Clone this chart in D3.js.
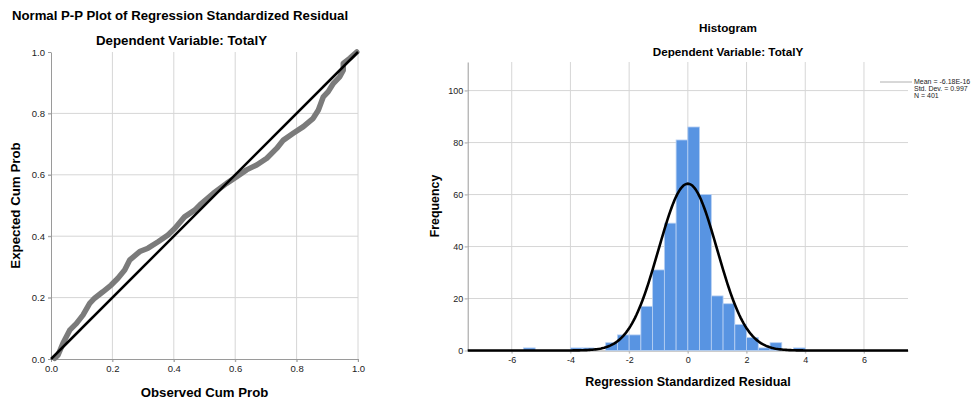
<!DOCTYPE html>
<html>
<head>
<meta charset="utf-8">
<script src="https://d3js.org/d3.v7.min.js"></script>
<style>
  body { margin: 0; background: #fff; }
  svg { font-family: Arial, "Liberation Sans", sans-serif; }
  .title { font-weight: bold; fill: #000; text-anchor: middle; }
  .axisTitle { font-weight: bold; fill: #000; text-anchor: middle; }
  .grid { stroke: #d6d6d6; stroke-width: 1; }
  .legend { font-size: 7px; fill: #222; }
</style>
</head>
<body>
<svg id="chart" width="979" height="403"></svg>
<script>
// P-P plot points
const observedCum = [0.012, 0.023, 0.039, 0.061, 0.083, 0.104, 0.126, 0.142, 0.169, 0.196,
  0.218, 0.240, 0.256, 0.289, 0.316, 0.349, 0.381, 0.403, 0.435, 0.468, 0.485, 0.529,
  0.572, 0.605, 0.637, 0.670, 0.703, 0.735, 0.757, 0.789, 0.822, 0.854, 0.871, 0.887,
  0.903, 0.920, 0.941, 0.952, 0.952, 0.974, 0.996];
const expectedCum = [0.002, 0.013, 0.051, 0.094, 0.116, 0.143, 0.181, 0.198, 0.219, 0.241,
  0.263, 0.290, 0.322, 0.350, 0.361, 0.382, 0.404, 0.425, 0.463, 0.485, 0.502, 0.540,
  0.572, 0.594, 0.616, 0.632, 0.654, 0.686, 0.713, 0.735, 0.757, 0.784, 0.811, 0.854,
  0.871, 0.898, 0.920, 0.941, 0.963, 0.980, 1.0];
const ppTicks = [0, 0.2, 0.4, 0.6, 0.8, 1.0];

// histogram: lower edge of each bin (width 0.4) and its count
const binStart = [-5.6, -4.0, -3.6, -2.8, -2.4, -2.0, -1.6, -1.2, -0.8, -0.4,
  0, 0.4, 0.8, 1.2, 1.6, 2.0, 2.4, 2.8, 3.6];
const binCount = [1, 1, 1, 3, 6, 6, 17, 31, 49, 81, 86, 60, 21, 18, 10, 5, 1, 3, 1];
const binWidth = 0.4;
const histXTicks = [-6, -4, -2, 0, 2, 4, 6];
const histYTicks = [0, 20, 40, 60, 80, 100];

const residMean = -6.18e-16;
const residSd = 0.997;
const residN = 401;
const legendLines = ["Mean = -6.18E-16", "Std. Dev. = 0.997", "N = 401"];

let svg = d3.select("#chart");

// ---------- left: normal P-P plot ----------
let pp = svg.append("g").attr("id", "ppPlot");
let xPP = d3.scaleLinear().domain([0, 1]).range([51, 358]);
let yPP = d3.scaleLinear().domain([0, 1]).range([359, 52]);

pp.selectAll("line.vgrid").data(ppTicks.slice(1))
  .join("line").attr("class", "grid vgrid")
  .attr("x1", d => xPP(d)).attr("x2", d => xPP(d))
  .attr("y1", yPP(1)).attr("y2", yPP(0) + 3);
pp.selectAll("line.hgrid").data(ppTicks.slice(1, -1))
  .join("line").attr("class", "grid hgrid")
  .attr("x1", xPP(0) - 3).attr("x2", xPP(1))
  .attr("y1", d => yPP(d)).attr("y2", d => yPP(d));

let ppY = pp.append("g").attr("transform", `translate(${xPP(0)},0)`)
  .call(d3.axisLeft(yPP).tickValues(ppTicks).tickFormat(d3.format(".1f")).tickSize(3).tickSizeOuter(0).tickPadding(3));
let ppX = pp.append("g").attr("transform", `translate(0,${yPP(0)})`)
  .call(d3.axisBottom(xPP).tickValues(ppTicks).tickFormat(d3.format(".1f")).tickSize(3).tickSizeOuter(0).tickPadding(3.5));
[ppY, ppX].forEach(a => {
  a.select(".domain").attr("stroke", "#9a9a9a");
  a.selectAll(".tick line").attr("stroke", "#9a9a9a");
  a.selectAll(".tick text").attr("fill", "#222").style("font-size", "9.5px");
});

let ppData = observedCum.map((d, i) => [d, expectedCum[i]]);
pp.append("path").datum(ppData)
  .attr("fill", "none").attr("stroke", "#7b7b7b").attr("stroke-width", 5.5)
  .attr("stroke-linejoin", "round").attr("stroke-linecap", "round")
  .attr("d", d3.line().x(d => xPP(d[0])).y(d => yPP(d[1])));
pp.append("line")
  .attr("x1", xPP(0)).attr("y1", yPP(0)).attr("x2", xPP(1)).attr("y2", yPP(1))
  .attr("stroke", "#000").attr("stroke-width", 2.5);

pp.append("text").attr("class", "title").attr("x", 180).attr("y", 19.5)
  .style("font-size", "13.2px").text("Normal P-P Plot of Regression Standardized Residual");
pp.append("text").attr("class", "title").attr("x", 181.5).attr("y", 45)
  .style("font-size", "13.3px").text("Dependent Variable: TotalY");
pp.append("text").attr("class", "axisTitle").attr("x", 204.5).attr("y", 397)
  .style("font-size", "13.2px").text("Observed Cum Prob");
pp.append("text").attr("class", "axisTitle")
  .attr("transform", "translate(19.5,205.5) rotate(-90)")
  .style("font-size", "13.3px").text("Expected Cum Prob");

// ---------- right: histogram ----------
let hist = svg.append("g").attr("id", "histogram");
let xH = d3.scaleLinear().domain([-7.5, 7.5]).range([467.7, 908]);
let yH = d3.scaleLinear().domain([0, 111]).range([350.5, 62]);

hist.selectAll("line.vgrid").data(histXTicks)
  .join("line").attr("class", "grid vgrid")
  .attr("x1", d => xH(d)).attr("x2", d => xH(d))
  .attr("y1", yH(111)).attr("y2", yH(0) + 3);
hist.selectAll("line.hgrid").data(histYTicks.slice(1))
  .join("line").attr("class", "grid hgrid")
  .attr("x1", xH(-7.5) - 3).attr("x2", xH(7.5))
  .attr("y1", d => yH(d)).attr("y2", d => yH(d));

let hY = hist.append("g").attr("transform", `translate(${xH(-7.5)},0)`)
  .call(d3.axisLeft(yH).tickValues(histYTicks).tickSize(3).tickSizeOuter(0).tickPadding(1.5));
let hX = hist.append("g").attr("transform", `translate(0,${yH(0)})`)
  .call(d3.axisBottom(xH).tickValues(histXTicks).tickFormat(d => String(d)).tickSize(3).tickSizeOuter(0).tickPadding(3.5));
[hY, hX].forEach(a => {
  a.select(".domain").attr("stroke", "#9a9a9a");
  a.selectAll(".tick line").attr("stroke", "#bbb");
  a.selectAll(".tick text").attr("fill", "#222").style("font-size", "9px");
});

hist.selectAll("rect.bar").data(binStart)
  .join("rect").attr("class", "bar")
  .attr("x", d => xH(d))
  .attr("width", d => xH(d + binWidth) - xH(d))
  .attr("y", (d, i) => yH(binCount[i]))
  .attr("height", (d, i) => yH(0) - yH(binCount[i]))
  .attr("fill", "#5894e2").attr("stroke", "#b9d1f3").attr("stroke-width", 0.8);

// fitted normal curve from the legend statistics
let curveX = d3.range(-7.5, 7.5001, 0.05);
let pdf = x => Math.exp(-0.5 * ((x - residMean) / residSd) ** 2) / (residSd * Math.sqrt(2 * Math.PI));
hist.append("path").datum(curveX)
  .attr("fill", "none").attr("stroke", "#000").attr("stroke-width", 2.6)
  .attr("d", d3.line().x(d => xH(d)).y(d => yH(residN * binWidth * pdf(d))));

hist.append("line").attr("x1", 880).attr("x2", 912).attr("y1", 82).attr("y2", 82)
  .attr("stroke", "#b0b0b0").attr("stroke-width", 1);
hist.selectAll("text.legend").data(legendLines)
  .join("text").attr("class", "legend")
  .attr("x", 914).attr("y", (d, i) => 83.5 + i * 7)
  .text(d => d);

hist.append("text").attr("class", "title").attr("x", 728).attr("y", 32)
  .style("font-size", "11.7px").text("Histogram");
hist.append("text").attr("class", "title").attr("x", 728).attr("y", 55.5)
  .style("font-size", "11.7px").text("Dependent Variable: TotalY");
hist.append("text").attr("class", "axisTitle").attr("x", 688).attr("y", 386)
  .style("font-size", "12.5px").text("Regression Standardized Residual");
hist.append("text").attr("class", "axisTitle")
  .attr("transform", "translate(438.5,206) rotate(-90)")
  .style("font-size", "12.4px").text("Frequency");
</script>
</body>
</html>
